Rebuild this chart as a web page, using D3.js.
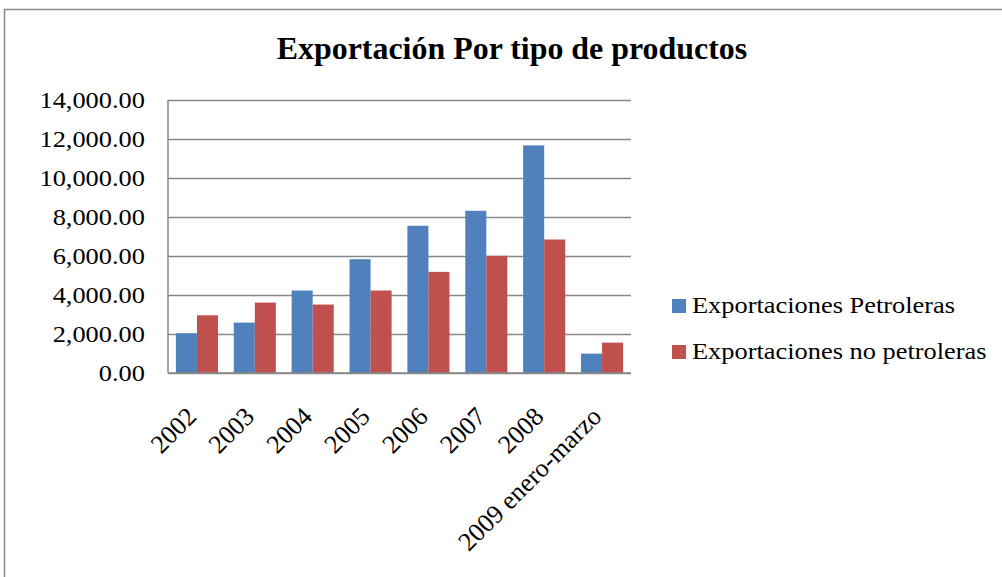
<!DOCTYPE html>
<html>
<head>
<meta charset="utf-8">
<script src="https://cdn.jsdelivr.net/npm/d3@7"></script>
<style>
  body { margin: 0; background: #fff; }
  svg { display: block; font-family: "Liberation Serif", "Times New Roman", serif; }
</style>
</head>
<body>
<div id="chart"></div>
<script>
// datos
const categories = ['2002', '2003', '2004', '2005', '2006', '2007', '2008', '2009 enero-marzo'];
const petroleras = [2037, 2585, 4227, 5836, 7550, 8318, 11672, 993];
const noPetroleras = [2960, 3610, 3510, 4230, 5186, 6010, 6846, 1557];
const seriesNames = ['Exportaciones Petroleras', 'Exportaciones no petroleras'];
const seriesColors = ['#4F81BD', '#C0504D'];
const yTicks = [0, 2000, 4000, 6000, 8000, 10000, 12000, 14000];

const W = 1002, H = 577;
const plot = { left: 168, right: 631, top: 100, bottom: 373 };
const stretch = 1.1;   // el texto del original esta algo ensanchado

const svg = d3.select('#chart').append('svg')
  .attr('width', W).attr('height', H);

// marco exterior
svg.append('rect')
  .attr('x', 4.5).attr('y', 9.5)
  .attr('width', 1100).attr('height', 700)
  .attr('fill', '#fff')
  .attr('stroke', '#888').attr('stroke-width', 1.5);

// titulo
svg.append('text')
  .attr('transform', `translate(512,59) scale(1.03,1)`)
  .attr('text-anchor', 'middle')
  .style('font-size', '31px').style('font-weight', 'bold')
  .text('Exportación Por tipo de productos');

// escalas
const x = d3.scaleBand().domain(categories).range([plot.left, plot.right]);
const inner = d3.scaleBand().domain([0, 1])
  .range([0, x.bandwidth()]).paddingOuter(0.75 / 2).paddingInner(0);
const y = d3.scaleLinear().domain([0, 14000]).range([plot.bottom, plot.top]);

// rejilla
svg.append('g')
  .attr('transform', `translate(${plot.left},0)`)
  .call(d3.axisLeft(y).tickValues(yTicks).tickSize(-(plot.right - plot.left)).tickFormat(''))
  .call(g => g.select('.domain').remove())
  .selectAll('.tick line').attr('stroke', '#888').attr('stroke-width', 1.5);

// etiquetas eje y
svg.append('g').selectAll('text')
  .data(yTicks).enter().append('text')
  .attr('transform', d => `translate(145,${y(d)}) scale(${stretch},1)`)
  .attr('dy', '0.33em')
  .attr('text-anchor', 'end')
  .style('font-size', '24px')
  .text(d => d3.format(',.2f')(d));

// barras
const groups = svg.append('g').selectAll('g')
  .data(categories).enter().append('g')
  .attr('transform', d => `translate(${x(d)},0)`);

groups.selectAll('rect')
  .data((d, i) => [petroleras[i], noPetroleras[i]])
  .enter().append('rect')
  .attr('x', (d, j) => inner(j))
  .attr('width', inner.bandwidth())
  .attr('y', d => y(d))
  .attr('height', d => y(0) - y(d))
  .attr('fill', (d, j) => seriesColors[j]);

// ejes
svg.append('line')
  .attr('x1', plot.left).attr('x2', plot.left)
  .attr('y1', plot.top).attr('y2', plot.bottom)
  .attr('stroke', '#888').attr('stroke-width', 1.5);
svg.append('line')
  .attr('x1', plot.left).attr('x2', plot.right)
  .attr('y1', plot.bottom).attr('y2', plot.bottom)
  .attr('stroke', '#888').attr('stroke-width', 1.5);

// etiquetas eje x, rotadas
svg.append('g').selectAll('text')
  .data(categories).enter().append('text')
  .attr('text-anchor', 'end')
  .attr('transform', d => `translate(${x(d) + x.bandwidth() / 2 + 1},${plot.bottom + 45}) rotate(-45)`)
  .style('font-size', '26px')
  .text(d => d);

// leyenda
const legend = svg.append('g').selectAll('g')
  .data(seriesNames).enter().append('g')
  .attr('transform', (d, i) => `translate(672,${299 + i * 46})`);
legend.append('rect')
  .attr('width', 14).attr('height', 14)
  .attr('fill', (d, i) => seriesColors[i]);
legend.append('text')
  .attr('transform', `translate(20,14) scale(${stretch},1)`)
  .style('font-size', '24px')
  .text(d => d);
</script>
</body>
</html>
